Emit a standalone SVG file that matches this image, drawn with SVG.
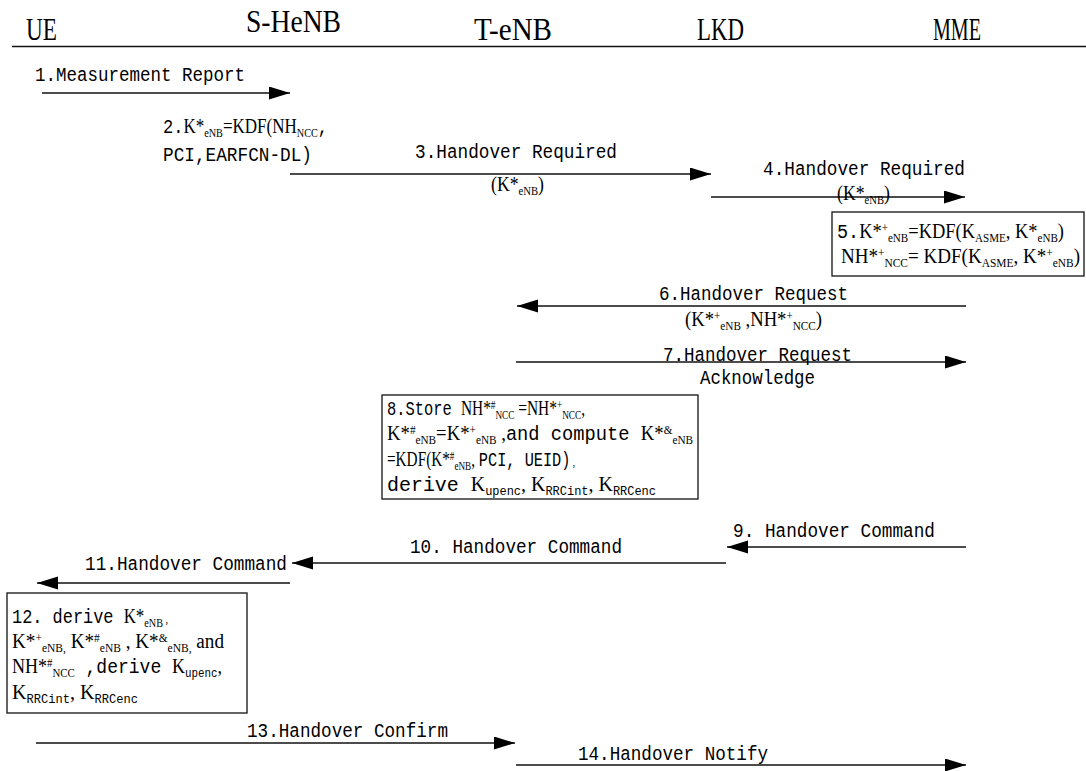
<svg xmlns="http://www.w3.org/2000/svg" width="1086" height="771" viewBox="0 0 1086 771">
<style>
.hd{font-family:"Liberation Serif",serif;font-size:32px;fill:#000}
.t{font-family:"Liberation Serif",serif;font-size:20px;fill:#000}
.m{font-family:"Liberation Mono",monospace;font-size:20px;fill:#000}
.sb{font-size:12px}
.sp{font-size:12px}
.ms{font-family:"Liberation Mono",monospace;font-size:12px}
.ln{stroke:#111;stroke-width:1.4;fill:none;marker-end:url(#ah)}
.box{fill:none;stroke:#111;stroke-width:1.3}
</style>
<defs>
<marker id="ah" markerUnits="userSpaceOnUse" markerWidth="22" markerHeight="14" refX="21" refY="6.5" orient="auto"><path d="M0,0 L21,6.5 L0,13 z" fill="#000"/></marker>
</defs>
<rect width="1086" height="771" fill="#fff"/>

<g id="headers">
<text class="hd" x="26" y="40" textLength="31" lengthAdjust="spacingAndGlyphs">UE</text>
<text class="hd" x="246" y="32" textLength="95" lengthAdjust="spacingAndGlyphs">S-HeNB</text>
<text class="hd" x="474" y="40" textLength="78" lengthAdjust="spacingAndGlyphs">T-eNB</text>
<text class="hd" x="697" y="40" textLength="47" lengthAdjust="spacingAndGlyphs">LKD</text>
<text class="hd" x="933" y="40" textLength="48" lengthAdjust="spacingAndGlyphs">MME</text>
<line x1="12" y1="46.5" x2="1086" y2="46.5" stroke="#111" stroke-width="1.6"/>
</g>

<g id="connectors">
<path class="ln" d="M42,93 H290"/>
<path class="ln" d="M290,174 H711"/>
<path class="ln" d="M711,197 H965"/>
<path class="ln" d="M966,306 H517"/>
<path class="ln" d="M516,362 H966"/>
<path class="ln" d="M966,547 H727"/>
<path class="ln" d="M726,563 H292"/>
<path class="ln" d="M290,583 H37"/>
<path class="ln" d="M36,743 H515"/>
<path class="ln" d="M516,765 H966"/>
</g>

<g id="labels">
<text class="m" x="35" y="81" textLength="210" lengthAdjust="spacingAndGlyphs">1.Measurement Report</text>
<text class="m" x="415" y="158" textLength="202" lengthAdjust="spacingAndGlyphs">3.Handover Required</text>
<text class="t" x="491" y="191" textLength="53" lengthAdjust="spacingAndGlyphs">(K*<tspan class="sb" dy="4">eNB</tspan><tspan dy="-4">)</tspan></text>
<text class="m" x="763" y="175" textLength="202" lengthAdjust="spacingAndGlyphs">4.Handover Required</text>
<text class="t" x="837" y="200" textLength="53" lengthAdjust="spacingAndGlyphs">(K*<tspan class="sb" dy="4">eNB</tspan><tspan dy="-4">)</tspan></text>
<text class="m" x="659" y="300" textLength="189" lengthAdjust="spacingAndGlyphs">6.Handover Request</text>
<text class="t" x="685" y="326" textLength="137" lengthAdjust="spacingAndGlyphs">(K*<tspan class="sp" dy="-6">+</tspan><tspan class="sb" dy="10">eNB</tspan><tspan dy="-4"> ,NH*</tspan><tspan class="sp" dy="-6">+</tspan><tspan class="sb" dy="10">NCC</tspan><tspan dy="-4">)</tspan></text>
<text class="m" x="663" y="361" textLength="189" lengthAdjust="spacingAndGlyphs">7.Handover Request</text>
<text class="m" x="700" y="384" textLength="115" lengthAdjust="spacingAndGlyphs">Acknowledge</text>
<text class="m" x="733" y="537" textLength="202" lengthAdjust="spacingAndGlyphs">9. Handover Command</text>
<text class="m" x="410" y="553" textLength="212" lengthAdjust="spacingAndGlyphs">10. Handover Command</text>
<text class="m" x="85" y="570" textLength="202" lengthAdjust="spacingAndGlyphs">11.Handover Command</text>
<text class="m" x="247" y="737" textLength="201" lengthAdjust="spacingAndGlyphs">13.Handover Confirm</text>
<text class="m" x="578" y="760" textLength="190" lengthAdjust="spacingAndGlyphs">14.Handover Notify</text>
</g>

<g id="step2">
<text class="t" x="163" y="133" textLength="165" lengthAdjust="spacingAndGlyphs"><tspan class="m">2.</tspan>K*<tspan class="sb" dy="4">eNB</tspan><tspan dy="-4">=KDF(NH</tspan><tspan class="sb" dy="4">NCC</tspan><tspan class="m" dy="-4">,</tspan></text>
<text class="m" x="163" y="161" textLength="149" lengthAdjust="spacingAndGlyphs">PCI,EARFCN-DL)</text>
</g>

<g id="step5">
<rect class="box" x="832" y="212" width="252" height="64"/>
<text class="t" x="837" y="238" textLength="227" lengthAdjust="spacingAndGlyphs"><tspan class="m">5.</tspan>K*<tspan class="sp" dy="-6">+</tspan><tspan class="sb" dy="10">eNB</tspan><tspan dy="-4">=KDF(K</tspan><tspan class="sb" dy="4">ASME</tspan><tspan dy="-4">,   K*</tspan><tspan class="sb" dy="4">eNB</tspan><tspan dy="-4">)</tspan></text>
<text class="t" x="841" y="263" textLength="239" lengthAdjust="spacingAndGlyphs">NH*<tspan class="sp" dy="-6">+</tspan><tspan class="sb" dy="10">NCC</tspan><tspan dy="-4">= KDF(K</tspan><tspan class="sb" dy="4">ASME</tspan><tspan dy="-4">,   K*</tspan><tspan class="sp" dy="-6">+</tspan><tspan class="sb" dy="10">eNB</tspan><tspan dy="-4">)</tspan></text>
</g>

<g id="step8">
<rect class="box" x="382" y="395" width="316" height="104"/>
<text class="t" x="387" y="415" textLength="198" lengthAdjust="spacingAndGlyphs"><tspan class="m">8.Store </tspan>NH*<tspan class="sp" dy="-6">#</tspan><tspan class="sb" dy="10">NCC</tspan><tspan dy="-4"> =NH*</tspan><tspan class="sp" dy="-6">+</tspan><tspan class="sb" dy="10">NCC</tspan><tspan dy="-4">,</tspan></text>
<text class="t" x="387" y="440" textLength="306" lengthAdjust="spacingAndGlyphs">K*<tspan class="sp" dy="-6">#</tspan><tspan class="sb" dy="10">eNB</tspan><tspan dy="-4">=K*</tspan><tspan class="sp" dy="-6">+</tspan><tspan class="sb" dy="10">eNB</tspan><tspan dy="-4"> ,</tspan><tspan class="m">and compute </tspan>K*<tspan class="sp" dy="-6">&amp;</tspan><tspan class="sb" dy="10">eNB</tspan></text>
<text class="t" x="387" y="466" textLength="188" lengthAdjust="spacingAndGlyphs">=KDF(K*<tspan class="sp" dy="-6">#</tspan><tspan class="sb" dy="10">eNB</tspan><tspan dy="-4">, </tspan><tspan class="m">PCI, UEID)</tspan><tspan class="sb"> ,</tspan></text>
<text class="t" x="387" y="491" textLength="269" lengthAdjust="spacingAndGlyphs"><tspan class="m">derive </tspan>K<tspan class="ms" dy="4">upenc</tspan><tspan dy="-4">, K</tspan><tspan class="ms" dy="4">RRCint</tspan><tspan dy="-4">, K</tspan><tspan class="ms" dy="4">RRCenc</tspan></text>
</g>

<g id="step12">
<rect class="box" x="7" y="593" width="240" height="120"/>
<text class="t" x="12" y="623" textLength="156" lengthAdjust="spacingAndGlyphs"><tspan class="m">12. derive </tspan>K*<tspan class="sb" dy="4">eNB</tspan><tspan class="sb" dy="-4"> ,</tspan></text>
<text class="t" x="12" y="648" textLength="212" lengthAdjust="spacingAndGlyphs">K*<tspan class="sp" dy="-6">+</tspan><tspan class="sb" dy="10">eNB,</tspan><tspan dy="-4"> K*</tspan><tspan class="sp" dy="-6">#</tspan><tspan class="sb" dy="10">eNB</tspan><tspan dy="-4"> , K*</tspan><tspan class="sp" dy="-6">&amp;</tspan><tspan class="sb" dy="10">eNB,</tspan><tspan dy="-4"> and</tspan></text>
<text class="t" x="12" y="673" textLength="210" lengthAdjust="spacingAndGlyphs">NH*<tspan class="sp" dy="-6">#</tspan><tspan class="sb" dy="10">NCC</tspan><tspan class="m" dy="-4">  ,derive </tspan>K<tspan class="ms" dy="4">upenc</tspan><tspan dy="-4">,</tspan></text>
<text class="t" x="12" y="699" textLength="126" lengthAdjust="spacingAndGlyphs">K<tspan class="ms" dy="4">RRCint</tspan><tspan dy="-4">, K</tspan><tspan class="ms" dy="4">RRCenc</tspan></text>
</g>
</svg>
